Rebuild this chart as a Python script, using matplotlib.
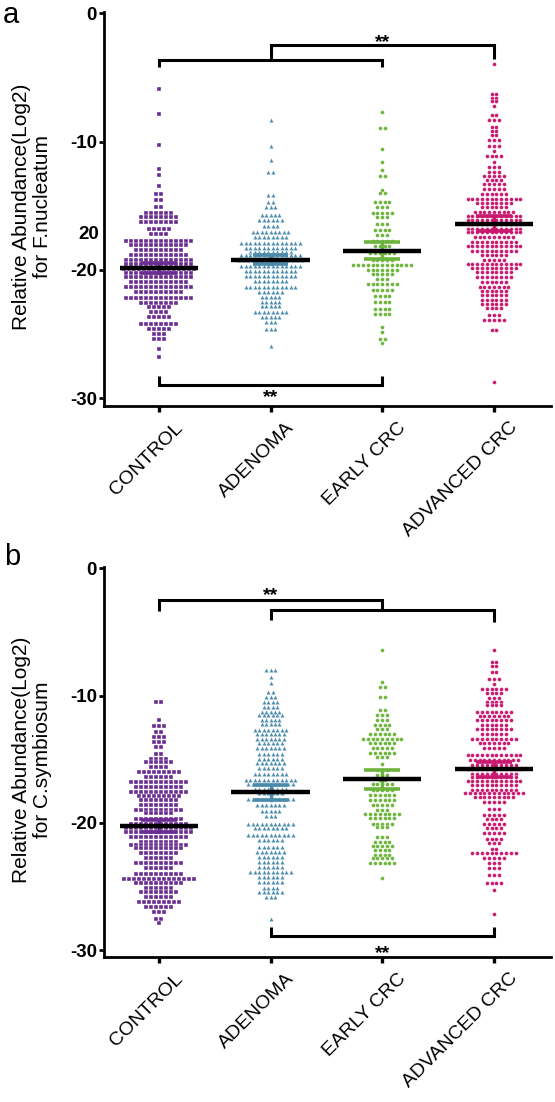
import numpy as np
import matplotlib.pyplot as plt
from matplotlib.transforms import ScaledTranslation

plt.rcParams['font.family'] = ['Liberation Sans', 'DejaVu Sans']

groups = ['CONTROL', 'ADENOMA', 'EARLY CRC', 'ADVANCED CRC']
colors = ['#6b2d92', '#4a8bad', '#6cb43c', '#c8196f']
markers = ['s', '^', 'o', 'o']

## Panel a, F.nucleatum: swarm rows (value, number of points in that row)
a_ctrl_lvl = [-5.87, -7.82, -10.29, -12.16, -12.63, -13.46, -14.05, -14.58, -15.1, -15.56, -15.87, -16.26,
              -16.78, -17.17, -17.75, -18.08, -18.47, -18.86, -19.2, -19.51, -19.9, -20.21, -20.55, -20.94,
              -21.33, -21.72, -22.16, -22.58, -22.89, -23.28, -23.67, -24.19, -24.58, -24.97, -25.36, -26.14, -26.79]
a_ctrl_cnt = [1, 1, 1, 1, 1, 1, 2, 2, 2, 6, 8, 8, 5, 4, 14, 12, 10, 12, 14, 14, 15, 14, 14, 12, 14, 10, 14,
              8, 5, 4, 5, 8, 5, 3, 3, 1, 1]
a_aden_lvl = [-8.34, -10.37, -11.46, -12.37, -14.19, -14.71, -15.1, -15.74, -16.13, -16.6, -17.07, -17.43,
              -17.9, -18.29, -18.6, -18.86, -19.25, -19.72, -20.08, -20.5, -20.86, -21.33, -21.72, -22.11,
              -22.5, -22.84, -23.28, -23.67, -24.06, -24.58, -25.96]
a_aden_cnt = [1, 1, 1, 2, 2, 2, 3, 5, 6, 4, 9, 8, 14, 12, 10, 14, 15, 14, 12, 12, 8, 12, 6, 5, 5, 5, 8, 5, 3, 3, 1]
a_early_lvl = [-7.69, -8.91, -10.55, -11.59, -12.19, -12.7, -13.74, -14.0, -14.71, -15.1, -15.56, -15.87,
               -16.44, -16.86, -17.3, -17.75, -18.16, -18.68, -19.2, -19.64, -19.98, -20.34, -20.69, -21.12,
               -21.59, -22.06, -22.5, -23.02, -23.46, -24.45, -24.84, -25.36, -25.7]
a_early_cnt = [1, 2, 1, 1, 1, 2, 1, 2, 4, 3, 5, 3, 3, 4, 3, 5, 4, 6, 5, 13, 7, 5, 3, 7, 5, 4, 4, 4, 4, 1, 1, 2, 1]
a_adv_lvl = [-3.92, -6.31, -6.57, -6.83, -7.25, -7.95, -8.34, -8.86, -9.17, -9.51, -9.9, -10.37, -10.76,
             -11.15, -11.59, -11.98, -12.37, -12.7, -13.02, -13.33, -13.67, -14.05, -14.44, -14.78, -15.1,
             -15.48, -15.82, -16.13, -16.44, -16.78, -17.04, -17.43, -17.82, -18.16, -18.52, -18.86, -19.2,
             -19.51, -19.82, -20.16, -20.55, -20.94, -21.33, -21.64, -21.98, -22.32, -22.63, -22.94, -23.54,
             -23.88, -24.71, -28.73]
a_adv_cnt = [1, 2, 2, 2, 1, 2, 3, 2, 2, 2, 3, 3, 1, 4, 1, 3, 3, 5, 4, 5, 5, 6, 12, 8, 6, 9, 12, 12, 12, 12,
             12, 9, 10, 12, 10, 6, 5, 12, 10, 8, 8, 6, 7, 6, 6, 6, 6, 4, 3, 5, 2, 1]
a_mean = [-19.85, -19.2, -18.5, -16.4]
a_sem = [0.4, 0.33, 0.67, 0.6]

## Panel b, C.symbiosum
b_ctrl_lvl = [-10.5, -11.94, -12.39, -12.86, -13.25, -13.64, -14.04, -14.56, -14.95, -15.21, -15.61, -16.0,
              -16.39, -16.78, -17.18, -17.57, -17.91, -18.22, -18.62, -18.96, -19.27, -19.74, -20.11, -20.45,
              -20.71, -21.1, -21.5, -21.76, -22.02, -22.41, -22.8, -23.2, -23.59, -24.04, -24.43, -24.77,
              -25.16, -25.43, -25.82, -26.21, -26.6, -27.0, -27.6, -27.86]
b_ctrl_cnt = [2, 1, 3, 2, 3, 3, 2, 2, 4, 6, 4, 9, 6, 12, 10, 12, 9, 8, 8, 10, 6, 10, 12, 14, 14, 12, 8, 12,
              10, 8, 6, 10, 6, 10, 15, 10, 6, 8, 6, 9, 6, 3, 2, 1]
b_aden_lvl = [-7.96, -8.54, -9.01, -9.71, -10.11, -10.5, -10.89, -11.29, -11.55, -11.89, -12.25, -12.73,
              -12.99, -13.38, -13.77, -14.16, -14.56, -14.95, -15.34, -15.73, -16.13, -16.65, -16.97, -17.31,
              -17.7, -18.17, -18.62, -19.06, -19.48, -20.06, -20.45, -20.97, -21.37, -21.89, -22.28, -22.68,
              -23.07, -23.46, -23.86, -24.25, -24.64, -25.16, -25.48, -25.82, -27.6]
b_aden_cnt = [3, 1, 1, 2, 3, 4, 4, 5, 6, 5, 5, 8, 7, 7, 6, 7, 6, 6, 7, 6, 8, 12, 11, 8, 6, 11, 7, 5, 3, 11,
              8, 11, 6, 6, 7, 6, 6, 6, 10, 6, 6, 4, 6, 3, 1]
b_early_lvl = [-6.39, -8.93, -9.32, -10.11, -11.15, -11.55, -11.94, -12.33, -12.6, -12.99, -13.38, -13.77,
               -14.16, -14.51, -14.82, -15.4, -15.87, -16.26, -16.65, -16.92, -17.44, -17.83, -18.22, -18.62,
               -19.01, -19.32, -19.66, -20.06, -20.32, -21.1, -21.5, -21.84, -22.15, -22.54, -22.8, -23.15, -24.38]
b_early_cnt = [1, 1, 2, 2, 2, 3, 3, 4, 3, 6, 9, 6, 5, 6, 3, 1, 3, 3, 2, 5, 5, 6, 6, 5, 3, 8, 6, 5, 3, 3,
               4, 5, 4, 4, 5, 6, 1]
b_adv_lvl = [-6.39, -7.36, -7.7, -8.14, -8.67, -9.06, -9.45, -9.79, -10.16, -10.5, -10.76, -11.29, -11.63,
             -11.94, -12.33, -12.67, -12.99, -13.38, -13.77, -14.16, -14.69, -15.08, -15.47, -15.81, -16.13,
             -16.39, -16.7, -17.04, -17.39, -17.7, -18.01, -18.36, -18.88, -19.4, -19.74, -20.06, -20.45,
             -20.79, -21.24, -21.63, -22.1, -22.41, -22.8, -23.2, -23.59, -24.12, -24.77, -25.29, -27.18]
b_adv_cnt = [1, 2, 2, 2, 3, 1, 6, 4, 3, 4, 4, 8, 7, 8, 6, 8, 6, 10, 7, 5, 12, 11, 10, 12, 10, 10, 12, 10,
             10, 13, 9, 5, 3, 5, 4, 5, 4, 5, 4, 3, 2, 10, 5, 3, 3, 3, 4, 1, 1]
b_mean = [-20.25, -17.62, -16.6, -15.8]
b_sem = [0.45, 0.6, 0.75, 0.6]

yticks = [0, -10, -20, -30]
W, H = 555, 1102


def swarm(ax, lvls, cnts, pos, color, marker, ms, dx):
    ## lay the points of each row side by side, centred on the group
    xs, ys = [], []
    for y, n in zip(lvls, cnts):
        off = (np.arange(n) - (n - 1) / 2) * dx
        xs.extend(pos + off)
        ys.extend([y] * n)
    ax.plot(xs, ys, ls='none', marker=marker, ms=ms, color=color, mec='white', mew=0.25)


def bracket(ax, pts):
    x, y = zip(*pts)
    ax.plot(x, y, color='black', lw=2.2, clip_on=False, solid_joinstyle='miter', solid_capstyle='butt')


def panel(rect, data, means, sems, ylim):
    ax = fig.add_axes(rect)
    for i, (lv, cn) in enumerate(data):
        ms = 3.2 if markers[i] == '^' else 2.8
        dx = {'s': 0.045, '^': 0.040, 'o': 0.043}[markers[i]]
        swarm(ax, lv, cn, i, colors[i], markers[i], ms, dx)
    for i in range(4):
        m, s = means[i], sems[i]
        ax.plot([i, i], [m - s, m + s], color=colors[i], lw=2.4)
        ax.hlines([m - s, m + s], i - 0.16, i + 0.16, color=colors[i], lw=2.6)
        ax.hlines(m, i - 0.35, i + 0.35, color='black', lw=3.2, zorder=5)
    ax.set_xlim(-0.49, 3.51)
    ax.set_ylim(*ylim)
    ax.spines['top'].set_visible(False)
    ax.spines['right'].set_visible(False)
    ax.spines['left'].set_linewidth(2.0)
    ax.spines['bottom'].set_linewidth(2.0)
    ax.set_yticks(yticks)
    ax.set_yticklabels([str(t) for t in yticks], fontsize=13.5, fontweight='bold')
    ax.tick_params(axis='y', length=3.6, width=2.0, pad=1.5)
    ax.set_xticks(range(4))
    ax.set_xticklabels(groups, fontsize=14, rotation=45, rotation_mode='anchor', ha='right', va='center')
    ax.tick_params(axis='x', length=4.5, width=2.4, pad=2)
    shift = ScaledTranslation(0.21, -0.10, fig.dpi_scale_trans)
    for lab in ax.get_xticklabels():
        lab.set_transform(lab.get_transform() + shift)
    return ax


fig = plt.figure(figsize=(W / 100, H / 100), dpi=100)

ax_a = panel([104 / W, 1 - 406 / H, 447 / W, 394 / H],
             [(a_ctrl_lvl, a_ctrl_cnt), (a_aden_lvl, a_aden_cnt), (a_early_lvl, a_early_cnt), (a_adv_lvl, a_adv_cnt)],
             a_mean, a_sem, (-30.6, 0.1))
bracket(ax_a, [(0, -4.18), (0, -3.61), (2, -3.61), (2, -4.18)])
bracket(ax_a, [(1, -3.61), (1, -2.49), (3, -2.49), (3, -3.6)])
bracket(ax_a, [(0, -28.3), (0, -28.94), (2, -28.94), (2, -28.3)])
ax_a.text(2, -2.65, '**', fontsize=14, fontweight='bold', ha='center', va='baseline')
ax_a.text(1, -30.3, '**', fontsize=14, fontweight='bold', ha='center', va='baseline', clip_on=False)
ax_a.text(-0.53, -17.2, '20', fontsize=13.5, fontweight='bold', ha='right', va='center')

ax_b = panel([104 / W, 1 - 957 / H, 447 / W, 390 / H],
             [(b_ctrl_lvl, b_ctrl_cnt), (b_aden_lvl, b_aden_cnt), (b_early_lvl, b_early_cnt), (b_adv_lvl, b_adv_cnt)],
             b_mean, b_sem, (-30.55, 0.1))
bracket(ax_b, [(0, -3.35), (0, -2.46), (2, -2.46), (2, -3.3)])
bracket(ax_b, [(1, -4.08), (1, -3.3), (3, -3.3), (3, -4.2)])
bracket(ax_b, [(1, -28.17), (1, -28.88), (3, -28.88), (3, -28.17)])
ax_b.text(1, -2.51, '**', fontsize=14, fontweight='bold', ha='center', va='baseline')
ax_b.text(2, -30.6, '**', fontsize=14, fontweight='bold', ha='center', va='baseline', clip_on=False)

## axis titles and panel letters
fig.text(32 / W, 1 - 207 / H, 'Relative Abundance(Log2)\nfor F.nucleatum', rotation=90,
         fontsize=15, ha='center', va='center', multialignment='center', linespacing=1.1)
fig.text(32 / W, 1 - 760 / H, 'Relative Abundance(Log2)\nfor C.symbiosum', rotation=90,
         fontsize=15, ha='center', va='center', multialignment='center', linespacing=1.1)
fig.text(3 / W, 1 - 23 / H, 'a', fontsize=21, va='baseline')
fig.text(4 / W, 1 - 565 / H, 'b', fontsize=21, va='baseline')

plt.savefig('out.png', dpi=100)
